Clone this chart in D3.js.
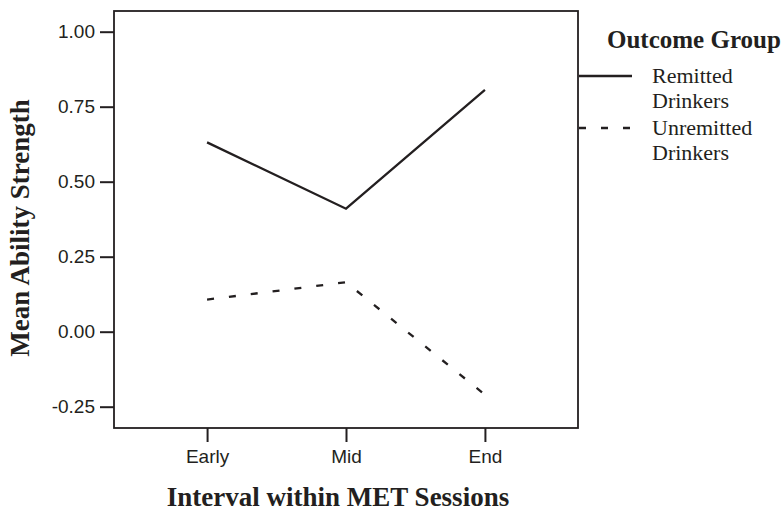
<!DOCTYPE html>
<html>
<head>
<meta charset="utf-8">
<script src="https://cdn.jsdelivr.net/npm/d3@7"></script>
<style>
  body { margin: 0; background: #fff; }
  svg { display: block; }
</style>
</head>
<body>
<svg id="chart"></svg>
<script>
var width = 783;
var height = 512;

// data
var intervals = ["Early", "Mid", "End"];
var remitted = [0.631, 0.41, 0.806];
var unremitted = [0.107, 0.165, -0.21];
var yTicks = [-0.25, 0, 0.25, 0.5, 0.75, 1.0];
var groupNames = ["Remitted Drinkers", "Unremitted Drinkers"];

// plot frame (note: "top" is taken by window.top, so use plot*)
var plotLeft = 114, plotRight = 578, plotTop = 11, plotBottom = 428;
var serif = "'Liberation Serif', 'Times New Roman', serif";
var sans = "'Liberation Sans', Arial, sans-serif";
var ink = "#231f20";

var svg = d3.select("#chart").attr("width", width).attr("height", height);

var x = d3.scalePoint().domain(intervals).range([plotLeft, plotRight]).padding(0.67);
var y = d3.scaleLinear().domain([-0.321, 1.069]).range([plotBottom, plotTop]);

// frame
svg.append("rect")
    .attr("x", plotLeft).attr("y", plotTop)
    .attr("width", plotRight - plotLeft).attr("height", plotBottom - plotTop)
    .attr("fill", "none").attr("stroke", ink).attr("stroke-width", 1.8);

var fmt = d3.format(".2f");
var yAxis = svg.append("g")
    .attr("transform", "translate(" + plotLeft + ",0)")
    .call(d3.axisLeft(y).tickValues(yTicks).tickSize(14).tickPadding(5)
        .tickFormat(function(d) { return fmt(d).replace("\u2212", "-"); }));
yAxis.select(".domain").remove();
yAxis.selectAll(".tick line").attr("stroke", ink).attr("stroke-width", 2);
yAxis.selectAll(".tick text").attr("font-family", sans).attr("font-size", 19).attr("fill", ink);

var xAxis = svg.append("g")
    .attr("transform", "translate(0," + plotBottom + ")")
    .call(d3.axisBottom(x).tickSize(14).tickPadding(8));
xAxis.select(".domain").remove();
xAxis.selectAll(".tick line").attr("stroke", ink).attr("stroke-width", 2);
xAxis.selectAll(".tick text").attr("font-family", sans).attr("font-size", 19).attr("fill", ink);

// titles
svg.append("text")
    .attr("x", 338).attr("y", 506)
    .attr("text-anchor", "middle")
    .attr("font-family", serif).attr("font-weight", "bold").attr("font-size", 27)
    .attr("fill", ink)
    .text("Interval within MET Sessions");

svg.append("text")
    .attr("transform", "translate(29,228) rotate(-90)")
    .attr("text-anchor", "middle")
    .attr("font-family", serif).attr("font-weight", "bold").attr("font-size", 27)
    .attr("fill", ink)
    .text("Mean Ability Strength");

// lines
var line = d3.line()
    .x(function(d, i) { return x(intervals[i]); })
    .y(function(d) { return y(d); });

var series = [
    { name: groupNames[0], values: remitted, dash: null },
    { name: groupNames[1], values: unremitted, dash: "7,15" }
];

svg.selectAll("path.series")
    .data(series)
    .enter().append("path")
    .attr("class", "series")
    .attr("d", function(d) { return line(d.values); })
    .attr("fill", "none")
    .attr("stroke", ink)
    .attr("stroke-width", 2.3)
    .attr("stroke-dasharray", function(d) { return d.dash; });

// legend
var legend = svg.append("g");
legend.append("text")
    .attr("x", 607).attr("y", 48)
    .attr("font-family", serif).attr("font-weight", "bold").attr("font-size", 25)
    .attr("fill", ink)
    .text("Outcome Group");

var item = legend.selectAll("g.item")
    .data(series)
    .enter().append("g")
    .attr("class", "item")
    .attr("transform", function(d, i) { return "translate(0," + (76 + i * 52) + ")"; });

item.append("line")
    .attr("x1", 579).attr("x2", 632)
    .attr("stroke", ink).attr("stroke-width", 2.3)
    .attr("stroke-dasharray", function(d) { return d.dash; });

item.each(function(d) {
    var words = d.name.split(" ");
    var t = d3.select(this).append("text")
        .attr("font-family", serif).attr("font-size", 22)
        .attr("fill", ink);
    words.forEach(function(w, j) {
        t.append("tspan").attr("x", 652).attr("y", 7 + j * 25).text(w);
    });
});
</script>
</body>
</html>
